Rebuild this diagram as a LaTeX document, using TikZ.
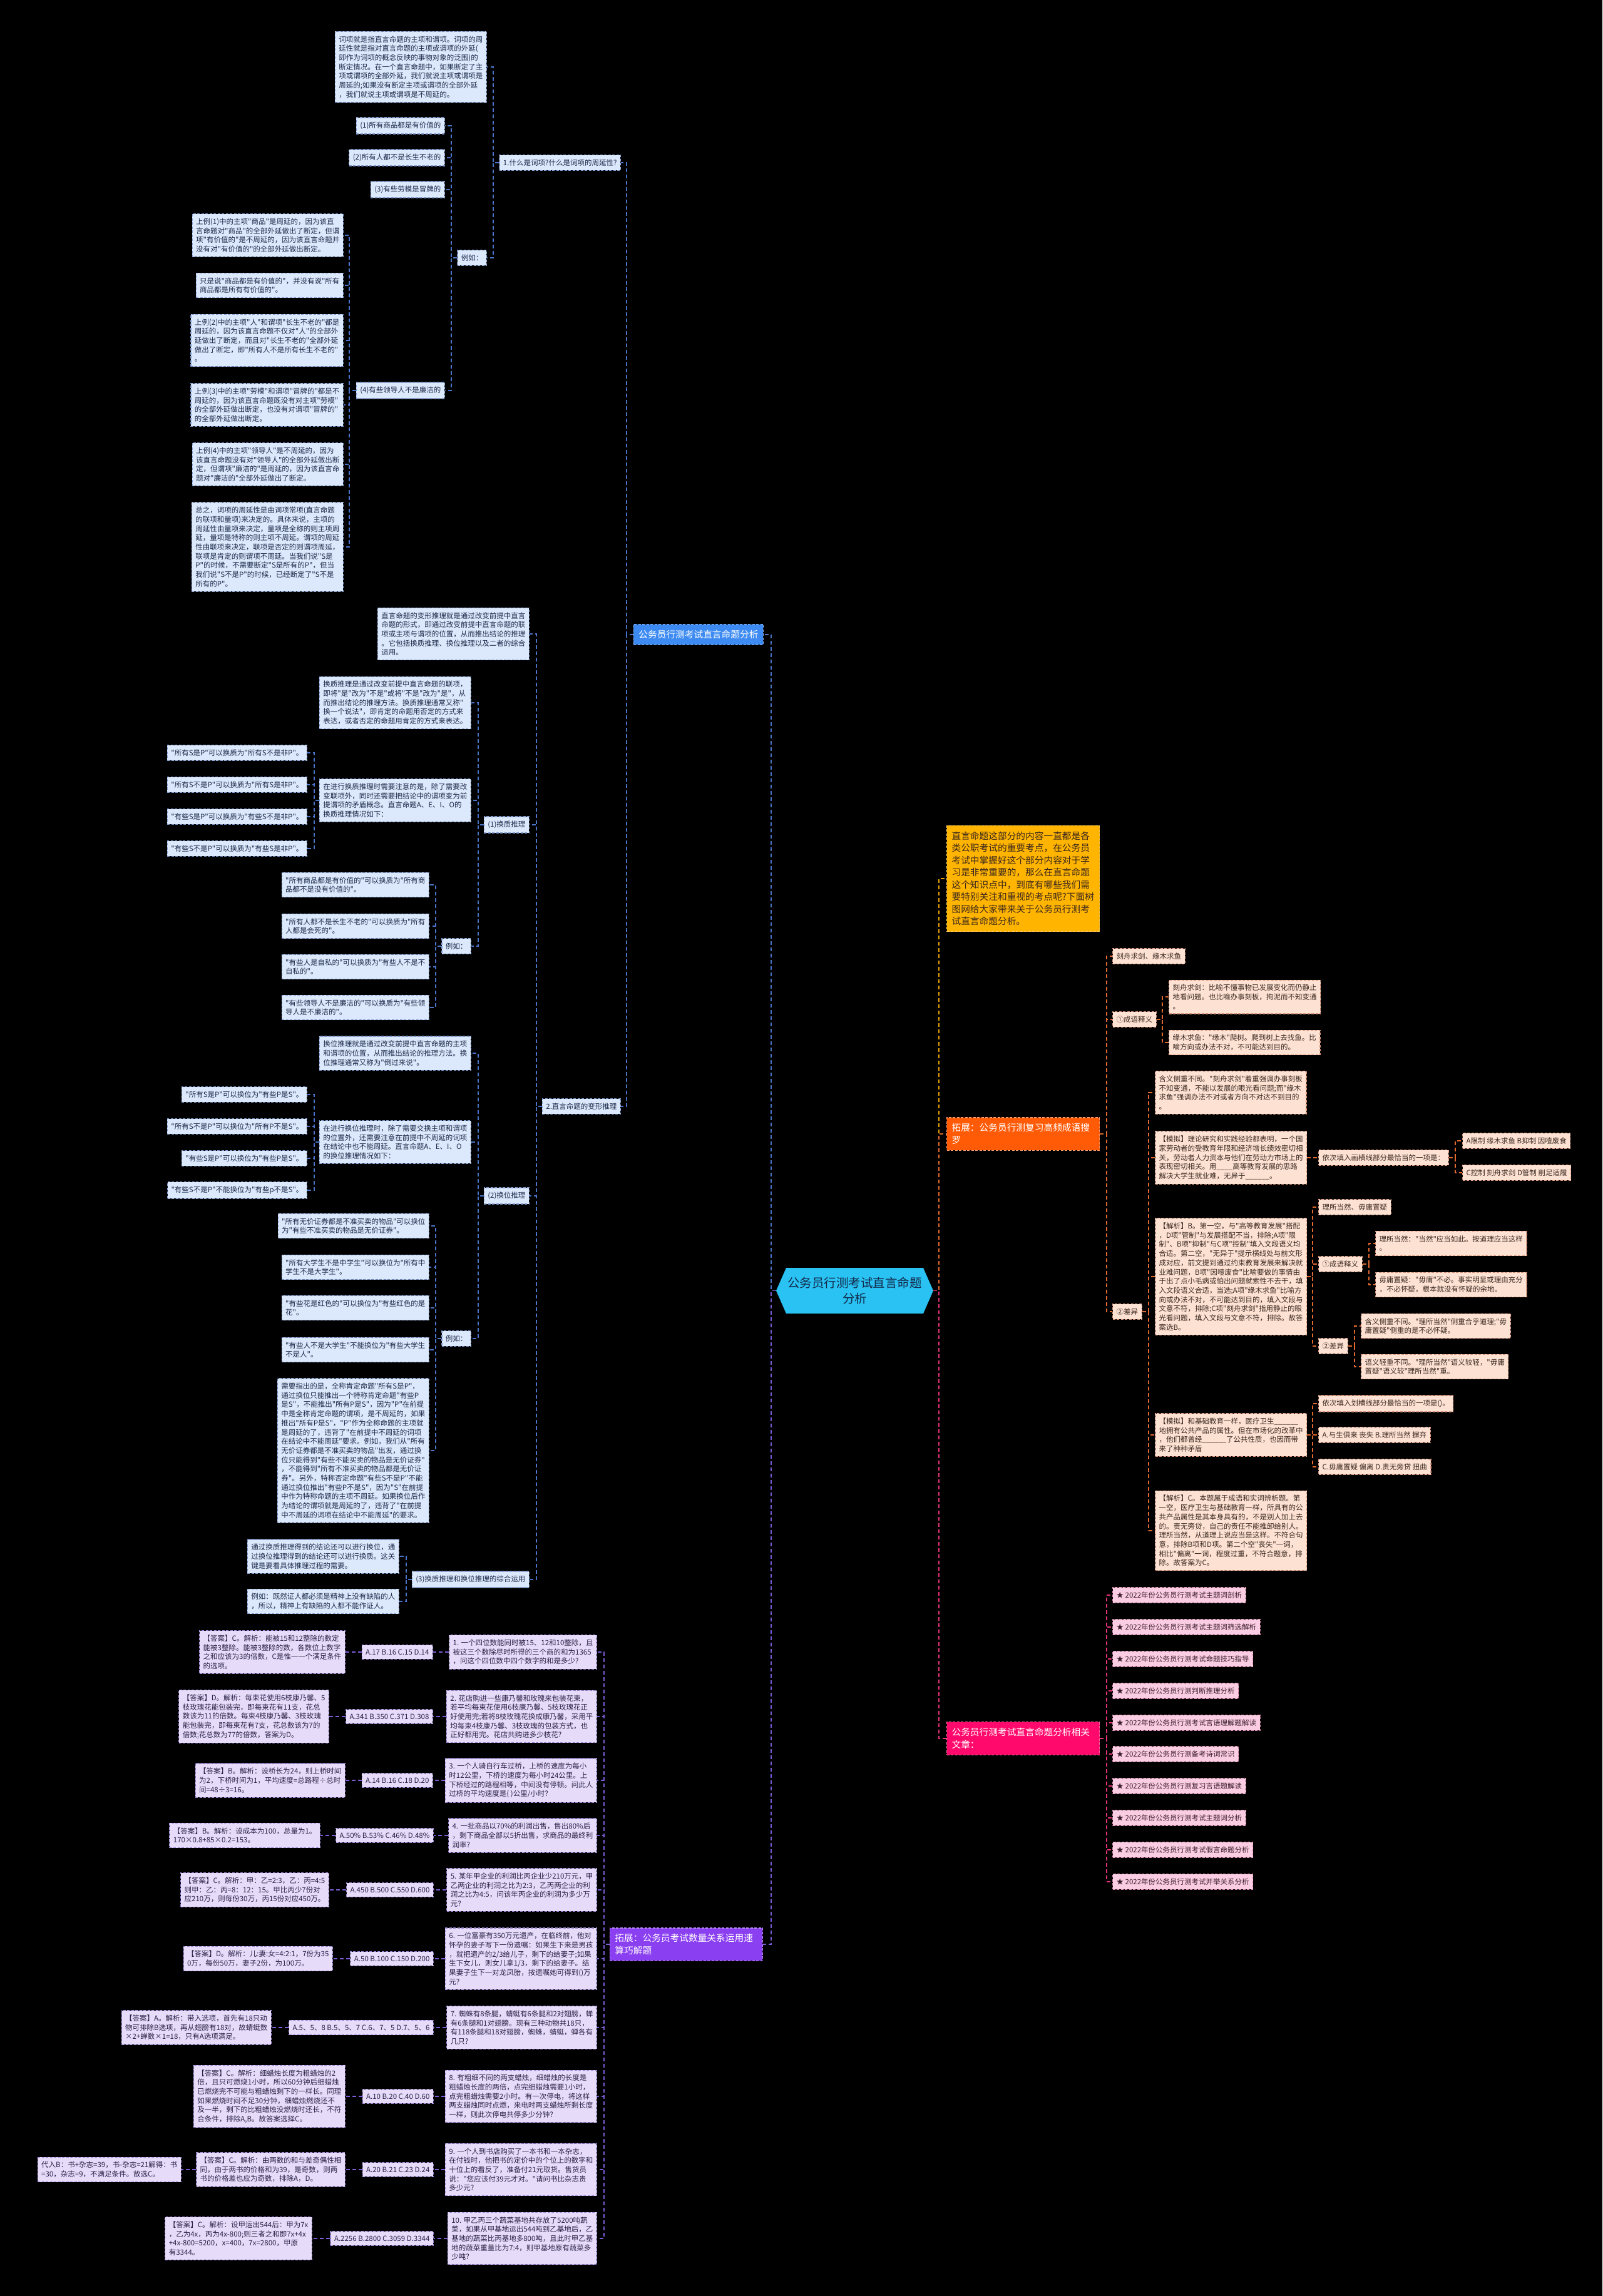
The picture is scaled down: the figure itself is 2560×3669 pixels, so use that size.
\documentclass[tikz,border=0pt]{standalone}
\usepackage{fontspec}
\newfontfamily\cjk{Noto Sans CJK SC}
\definecolor{bfill}{HTML}{DCE8FB}\definecolor{bdraw}{HTML}{7F9BD0}\definecolor{btext}{HTML}{1B2A49}\definecolor{bline}{HTML}{4A74C9}
\definecolor{pfill}{HTML}{E6DCFA}\definecolor{pdraw}{HTML}{9C86D6}\definecolor{ptext}{HTML}{2A2145}\definecolor{pline}{HTML}{7B5BD6}
\definecolor{efill}{HTML}{FDE2D4}\definecolor{edraw}{HTML}{D9967A}\definecolor{etext}{HTML}{3A271E}\definecolor{eline}{HTML}{E2692E}
\definecolor{kfill}{HTML}{FBCDE2}\definecolor{kdraw}{HTML}{D98AAE}\definecolor{ktext}{HTML}{3A1E2B}\definecolor{kline}{HTML}{E5337A}
\definecolor{blueL}{HTML}{3D8BF2}\definecolor{purpL}{HTML}{8A3FF0}\definecolor{yelL}{HTML}{FFB400}\definecolor{redL}{HTML}{FF5A06}\definecolor{pinkL}{HTML}{FF0A6C}
\definecolor{rootfill}{HTML}{29C2F2}\definecolor{roottext}{HTML}{13294B}\definecolor{yline}{HTML}{E8A200}
\tikzset{
 nd/.style={font=\cjk\fontsize{11.5}{14.7}\selectfont, align=left, inner xsep=6pt, inner ysep=7pt, line width=1.1pt, dash pattern=on 4pt off 2.5pt},
 bn/.style={nd, fill=bfill, draw=bdraw, text=btext},
 pn/.style={nd, fill=pfill, draw=pdraw, text=ptext},
 en/.style={nd, fill=efill, draw=edraw, text=etext},
 kn/.style={nd, fill=kfill, draw=kdraw, text=ktext},
 lone/.style={font=\cjk\fontsize{14.7}{19.5}\selectfont, align=left, inner xsep=8pt, inner ysep=9.5pt, line width=1.1pt, dash pattern=on 4pt off 2.5pt},
 cb/.style={draw=bline, line width=1.8pt, dash pattern=on 6pt off 4pt},
 cp/.style={draw=pline, line width=1.8pt, dash pattern=on 6pt off 4pt},
 ce/.style={draw=eline, line width=1.8pt, dash pattern=on 6pt off 4pt},
 ck/.style={draw=kline, line width=1.8pt, dash pattern=on 6pt off 4pt},
 cy/.style={draw=yline, line width=1.8pt, dash pattern=on 6pt off 4pt},
}
\newcommand\linkL[4]{\draw[#1] (#2.west) -- (#4) |- (#3.east);}
\newcommand\linkR[4]{\draw[#1] (#2.east) -- (#4) |- (#3.west);}
\begin{document}
\begin{tikzpicture}[x=1pt,y=-1pt]
\useasboundingbox (0,0) rectangle (2560,3669);
\fill[black] (0,0) rectangle (2560,3669);
% root
\fill[rootfill] (1240,2062.5) -- (1256,2026) -- (1475,2026) -- (1491,2062.5) -- (1475,2099) -- (1256,2099) -- cycle;
\node[font=\cjk\fontsize{19.5}{25}\selectfont, text=roottext, align=center, minimum width=251pt, minimum height=73pt, inner sep=0pt] (root) at (1365.5,2062.5) {公务员行测考试直言命题\\分析};
\coordinate (tRL) at (1232,2062.5);
\coordinate (tRR) at (1500,2062.5);
% level 1
\node[lone, fill=blueL, draw=blueL!60!white, text=white, anchor=east] (bL) at (1220,1014) {公务员行测考试直言命题分析};
\node[lone, fill=purpL, draw=purpL!60!white, text=white, anchor=east, text width=228pt] (pL) at (1219,3107) {拓展：公务员考试数量关系运用速\\算巧解题};
\node[lone, fill=yelL, draw=yelL!60!white, text=etext, anchor=west, text width=228pt] (yL) at (1512,1404) {直言命题这部分的内容一直都是各\\类公职考试的重要考点，在公务员\\考试中掌握好这个部分内容对于学\\习是非常重要的，那么在直言命题\\这个知识点中，到底有哪些我们需\\要特别关注和重视的考点呢?下面树\\图网给大家带来关于公务员行测考\\试直言命题分析。};
\node[lone, fill=redL, draw=redL!60!white, text=white, anchor=west, text width=228pt] (rL) at (1512,1812) {拓展：公务员行测复习高频成语搜\\罗};
\node[lone, fill=pinkL, draw=pinkL!60!white, text=white, anchor=west, text width=228pt] (kL) at (1512,2778) {公务员行测考试直言命题分析相关\\文章：};
\linkL{cb}{root}{bL}{tRL}
\linkL{cp}{root}{pL}{tRL}
\linkR{cy}{root}{yL}{tRR}
\linkR{ce}{root}{rL}{tRR}
\linkR{ck}{root}{kL}{tRR}
% ===== blue subtree
\coordinate (tB) at (1001,1014);
\node[bn, anchor=east] (n1) at (992,260) {1.什么是词项?什么是词项的周延性?};
\node[bn, anchor=east] (n2) at (992,1768) {2.直言命题的变形推理};
\linkL{cb}{bL}{n1}{tB}\linkL{cb}{bL}{n2}{tB}
\coordinate (tn1) at (788,260);
\node[bn, anchor=east] (pa1) at (778,107) {词项就是指直言命题的主项和谓项。词项的周\\延性就是指对直言命题的主项或谓项的外延(\\即作为词项的概念反映的事物对象的泛围)的\\断定情况。在一个直言命题中，如果断定了主\\项或谓项的全部外延，我们就说主项或谓项是\\周延的;如果没有断定主项或谓项的全部外延\\，我们就说主项或谓项是不周延的。};
\node[bn, anchor=east] (eg1) at (778,412) {例如：};
\linkL{cb}{n1}{pa1}{tn1}\linkL{cb}{n1}{eg1}{tn1}
\coordinate (teg1) at (721,412);
\node[bn, anchor=east] (x1) at (711,201) {(1)所有商品都是有价值的};
\node[bn, anchor=east] (x2) at (711,252) {(2)所有人都不是长生不老的};
\node[bn, anchor=east] (x3) at (711,303) {(3)有些劳模是冒牌的};
\node[bn, anchor=east] (x4) at (711,624) {(4)有些领导人不是廉洁的};
\linkL{cb}{eg1}{x1}{teg1}\linkL{cb}{eg1}{x2}{teg1}\linkL{cb}{eg1}{x3}{teg1}\linkL{cb}{eg1}{x4}{teg1}
\coordinate (tx4) at (558,624);
\node[bn, anchor=east] (e1) at (549,376) {上例(1)中的主项"商品"是周延的，因为该直\\言命题对"商品"的全部外延做出了断定，但谓\\项"有价值的"是不周延的，因为该直言命题并\\没有对"有价值的"的全部外延做出断定。};
\node[bn, anchor=east] (e2) at (549,456) {只是说"商品都是有价值的"，并没有说"所有\\商品都是所有有价值的"。};
\node[bn, anchor=east] (e3) at (549,544) {上例(2)中的主项"人"和谓项"长生不老的"都是\\周延的，因为该直言命题不仅对"人"的全部外\\延做出了断定，而且对"长生不老的"全部外延\\做出了断定，即"所有人不是所有长生不老的"\\。};
\node[bn, anchor=east] (e4) at (549,647) {上例(3)中的主项"劳模"和谓项"冒牌的"都是不\\周延的，因为该直言命题既没有对主项"劳模"\\的全部外延做出断定，也没有对谓项"冒牌的"\\的全部外延做出断定。};
\node[bn, anchor=east] (e5) at (549,742) {上例(4)中的主项"领导人"是不周延的，因为\\该直言命题没有对"领导人"的全部外延做出断\\定，但谓项"廉洁的"是周延的，因为该直言命\\题对"廉洁的"全部外延做出了断定。};
\node[bn, anchor=east] (e6) at (549,874) {总之，词项的周延性是由词项常项(直言命题\\的联项和量项)来决定的。具体来说，主项的\\周延性由量项来决定，量项是全称的则主项周\\延，量项是特称的则主项不周延。谓项的周延\\性由联项来决定，联项是否定的则谓项周延，\\联项是肯定的则谓项不周延。当我们说"S是\\P"的时候，不需要断定"S是所有的P"，但当\\我们说"S不是P"的时候，已经断定了"S不是\\所有的P"。};
\foreach \c in {e1,e2,e3,e4,e5,e6} {\linkL{cb}{x4}{\c}{tx4}}
\coordinate (tn2) at (857,1768);
\node[bn, anchor=east] (pa2) at (846,1013) {直言命题的变形推理就是通过改变前提中直言\\命题的形式，即通过改变前提中直言命题的联\\项或主项与谓项的位置，从而推出结论的推理\\。它包括换质推理、换位推理以及二者的综合\\运用。};
\node[bn, anchor=east] (q1) at (846,1318) {(1)换质推理};
\node[bn, anchor=east] (q2) at (846,1911) {(2)换位推理};
\node[bn, anchor=east] (q3) at (846,2524) {(3)换质推理和换位推理的综合运用};
\foreach \c in {pa2,q1,q2,q3} {\linkL{cb}{n2}{\c}{tn2}}
\coordinate (tq1) at (764,1318);
\node[bn, anchor=east] (hz) at (753,1123) {换质推理是通过改变前提中直言命题的联项，\\即将"是"改为"不是"或将"不是"改为"是"，从\\而推出结论的推理方法。换质推理通常又称"\\换一个说法"，即肯定的命题用否定的方式来\\表达，或者否定的命题用肯定的方式来表达。};
\node[bn, anchor=east] (hzn) at (753,1279) {在进行换质推理时需要注意的是，除了需要改\\变联项外，同时还需要把结论中的谓项变为前\\提谓项的矛盾概念。直言命题A、E、I、O的\\换质推理情况如下：};
\node[bn, anchor=east] (eg2) at (753,1512) {例如：};
\foreach \c in {hz,hzn,eg2} {\linkL{cb}{q1}{\c}{tq1}}
\coordinate (thzn) at (502,1279);
\node[bn, anchor=east] (f1) at (491,1203) {"所有S是P"可以换质为"所有S不是非P"。};
\node[bn, anchor=east] (f2) at (491,1254) {"所有S不是P"可以换质为"所有S是非P"。};
\node[bn, anchor=east] (f3) at (491,1305) {"有些S是P"可以换质为"有些S不是非P"。};
\node[bn, anchor=east] (f4) at (491,1356) {"有些S不是P"可以换质为"有些S是非P"。};
\foreach \c in {f1,f2,f3,f4} {\linkL{cb}{hzn}{\c}{thzn}}
\coordinate (teg2) at (696,1512);
\node[bn, anchor=east] (g1) at (686,1414) {"所有商品都是有价值的"可以换质为"所有商\\品都不是没有价值的"。};
\node[bn, anchor=east] (g2) at (686,1480) {"所有人都不是长生不老的"可以换质为"所有\\人都是会死的"。};
\node[bn, anchor=east] (g3) at (686,1545) {"有些人是自私的"可以换质为"有些人不是不\\自私的"。};
\node[bn, anchor=east] (g4) at (686,1610) {"有些领导人不是廉洁的"可以换质为"有些领\\导人是不廉洁的"。};
\foreach \c in {g1,g2,g3,g4} {\linkL{cb}{eg2}{\c}{teg2}}
\coordinate (tq2) at (764,1911);
\node[bn, anchor=east] (hw) at (753,1683) {换位推理就是通过改变前提中直言命题的主项\\和谓项的位置，从而推出结论的推理方法。换\\位推理通常又称为"倒过来说"。};
\node[bn, anchor=east] (hwn) at (753,1825) {在进行换位推理时，除了需要交换主项和谓项\\的位置外，还需要注意在前提中不周延的词项\\在结论中也不能周延。直言命题A、E、I、O\\的换位推理情况如下：};
\node[bn, anchor=east] (eg3) at (753,2139) {例如：};
\foreach \c in {hw,hwn,eg3} {\linkL{cb}{q2}{\c}{tq2}}
\coordinate (thwn) at (502,1825);
\node[bn, anchor=east] (k1) at (491,1749) {"所有S是P"可以换位为"有些P是S"。};
\node[bn, anchor=east] (k2) at (491,1800) {"所有S不是P"可以换位为"所有P不是S"。};
\node[bn, anchor=east] (k3) at (491,1851) {"有些S是P"可以换位为"有些P是S"。};
\node[bn, anchor=east] (k4) at (491,1902) {"有些S不是P"不能换位为"有些p不是S"。};
\foreach \c in {k1,k2,k3,k4} {\linkL{cb}{hwn}{\c}{thwn}}
\coordinate (teg3) at (696,2139);
\node[bn, anchor=east] (l1) at (686,1959) {"所有无价证券都是不准买卖的物品"可以换位\\为"有些不准买卖的物品是无价证券"。};
\node[bn, anchor=east] (l2) at (686,2025) {"所有大学生不是中学生"可以换位为"所有中\\学生不是大学生"。};
\node[bn, anchor=east] (l3) at (686,2090) {"有些花是红色的"可以换位为"有些红色的是\\花"。};
\node[bn, anchor=east] (l4) at (686,2157) {"有些人不是大学生"不能换位为"有些大学生\\不是人"。};
\node[bn, anchor=east] (l5) at (686,2318) {需要指出的是，全称肯定命题"所有S是P"，\\通过换位只能推出一个特称肯定命题"有些P\\是S"，不能推出"所有P是S"，因为"P"在前提\\中是全称肯定命题的谓项，是不周延的，如果\\推出"所有P是S"，"P"作为全称命题的主项就\\是周延的了，违背了"在前提中不周延的词项\\在结论中不能周延"要求。例如，我们从"所有\\无价证券都是不准买卖的物品"出发，通过换\\位只能得到"有些不能买卖的物品是无价证券"\\，不能得到"所有不准买卖的物品都是无价证\\券"。另外，特称否定命题"有些S不是P"不能\\通过换位推出"有些P不是S"，因为"S"在前提\\中作为特称命题的主项不周延。如果换位后作\\为结论的谓项就是周延的了，违背了"在前提\\中不周延的词项在结论中不能周延"的要求。};
\foreach \c in {l1,l2,l3,l4,l5} {\linkL{cb}{eg3}{\c}{teg3}}
\coordinate (tq3) at (649,2524);
\node[bn, anchor=east] (m1) at (638,2487) {通过换质推理得到的结论还可以进行换位，通\\过换位推理得到的结论还可以进行换质。这关\\键是要看具体推理过程的需要。};
\node[bn, anchor=east] (m2) at (638,2559) {例如：既然证人都必须是精神上没有缺陷的人\\，所以，精神上有缺陷的人都不能作证人。};
\linkL{cb}{q3}{m1}{tq3}\linkL{cb}{q3}{m2}{tq3}
% ===== purple subtree
\coordinate (tP) at (965,3107);
\node[pn, anchor=east] (p1) at (954,2640) {1. 一个四位数能同时被15、12和10整除，且\\被这三个数除尽时所得的三个商的和为1365\\，问这个四位数中四个数字的和是多少?};
\node[pn, anchor=east] (o1) at (692,2640) {A.17 B.16 C.15 D.14};
\node[pn, anchor=east] (a1) at (552,2640) {【答案】C。解析：能被15和12整除的数定\\能被3整除。能被3整除的数，各数位上数字\\之和应该为3的倍数，C是惟一一个满足条件\\的选项。};
\node[pn, anchor=east] (p2) at (954,2743) {2. 花店购进一些康乃馨和玫瑰来包装花束，\\若平均每束花使用6枝康乃馨、5枝玫瑰花正\\好使用完;若将8枝玫瑰花换成康乃馨，采用平\\均每束4枝康乃馨、3枝玫瑰的包装方式，也\\正好都用完。花店共购进多少枝花?};
\node[pn, anchor=east] (o2) at (692,2743) {A.341 B.350 C.371 D.308};
\node[pn, anchor=east] (a2) at (526,2743) {【答案】D。解析：每束花使用6枝康乃馨、5\\枝玫瑰花能包装完，即每束花有11支，花总\\数该为11的倍数。每束4枝康乃馨、3枝玫瑰\\能包装完，即每束花有7支，花总数该为7的\\倍数;花总数为77的倍数，答案为D。};
\node[pn, anchor=east] (p3) at (954,2845) {3. 一个人骑自行车过桥，上桥的速度为每小\\时12公里，下桥的速度为每小时24公里。上\\下桥经过的路程相等，中间没有停顿。问此人\\过桥的平均速度是( )公里/小时?};
\node[pn, anchor=east] (o3) at (692,2845) {A.14 B.16 C.18 D.20};
\node[pn, anchor=east] (a3) at (552,2845) {【答案】B。解析：设桥长为24，则上桥时间\\为2，下桥时间为1，平均速度=总路程÷总时\\间=48÷3=16。};
\node[pn, anchor=east] (p4) at (954,2933) {4. 一批商品以70\%的利润出售，售出80\%后\\，剩下商品全部以5折出售，求商品的最终利\\润率?};
\node[pn, anchor=east] (o4) at (693,2933) {A.50\% B.53\% C.46\% D.48\%};
\node[pn, anchor=east] (a4) at (512,2933) {【答案】B。解析：设成本为100，总量为1。\\170×0.8+85×0.2=153。};
\node[pn, anchor=east] (p5) at (954,3020) {5. 某年甲企业的利润比丙企业少210万元，甲\\乙两企业的利润之比为2:3，乙丙两企业的利\\润之比为4:5，问该年丙企业的利润为多少万\\元?};
\node[pn, anchor=east] (o5) at (693,3020) {A.450 B.500 C.550 D.600};
\node[pn, anchor=east] (a5) at (526,3020) {【答案】C。解析：甲：乙=2:3，乙：丙=4:5\\则甲：乙：丙=8：12：15。甲比丙少7份对\\应210万，则每份30万，丙15份对应450万。};
\node[pn, anchor=east] (p6) at (954,3130) {6. 一位富豪有350万元遗产，在临终前，他对\\怀孕的妻子写下一份遗嘱：如果生下来是男孩\\，就把遗产的2/3给儿子，剩下的给妻子;如果\\生下女儿，则女儿拿1/3，剩下的给妻子。结\\果妻子生下一对龙凤胎，按遗嘱她可得到()万\\元?};
\node[pn, anchor=east] (o6) at (693,3130) {A.50 B.100 C.150 D.200};
\node[pn, anchor=east] (a6) at (532,3130) {【答案】D。解析：儿:妻:女=4:2:1，7份为35\\0万，每份50万，妻子2份，为100万。};
\node[pn, anchor=east] (p7) at (954,3240) {7. 蜘蛛有8条腿，蜻蜓有6条腿和2对翅膀，蝉\\有6条腿和1对翅膀。现有三种动物共18只，\\有118条腿和18对翅膀，蜘蛛，蜻蜓，蝉各有\\几只?};
\node[pn, anchor=east] (o7) at (693,3240) {A.5、5、8 B.5、5、7 C.6、7、5 D.7、5、6};
\node[pn, anchor=east] (a7) at (434,3240) {【答案】A。解析：带入选项，首先有18只动\\物可排除B选项，再从翅膀有18对，故蜻蜓数\\×2+蝉数×1=18，只有A选项满足。};
\node[pn, anchor=east] (p8) at (954,3350) {8. 有粗细不同的两支蜡烛，细蜡烛的长度是\\粗蜡烛长度的两倍，点完细蜡烛需要1小时，\\点完粗蜡烛需要2小时。有一次停电，将这样\\两支蜡烛同时点燃，来电时两支蜡烛所剩长度\\一样，则此次停电共停多少分钟?};
\node[pn, anchor=east] (o8) at (693,3350) {A.10 B.20 C.40 D.60};
\node[pn, anchor=east] (a8) at (552,3350) {【答案】C。解析：细蜡烛长度为粗蜡烛的2\\倍，且只可燃烧1小时，所以60分钟后细蜡烛\\已燃烧完不可能与粗蜡烛剩下的一样长。同理\\如果燃烧时间不足30分钟，细蜡烛燃烧还不\\及一半，剩下的比粗蜡烛没燃烧时还长，不符\\合条件，排除A,B。故答案选择C。};
\node[pn, anchor=east] (p9) at (954,3467) {9. 一个人到书店购买了一本书和一本杂志，\\在付钱时，他把书的定价中的个位上的数字和\\十位上的看反了，准备付21元取货。售货员\\说："您应该付39元才对。"请问书比杂志贵\\多少元?};
\node[pn, anchor=east] (o9) at (693,3467) {A.20 B.21 C.23 D.24};
\node[pn, anchor=east] (a9) at (552,3467) {【答案】C。解析：由两数的和与差奇偶性相\\同，由于两书的价格和为39，是奇数，则两\\书的价格差也应为奇数，排除A，D。};
\node[pn, anchor=east] (x9) at (290,3467) {代入B：书+杂志=39，书-杂志=21解得：书\\=30，杂志=9，不满足条件。故选C。};
\node[pn, anchor=east] (p10) at (954,3577) {10. 甲乙丙三个蔬菜基地共存放了5200吨蔬\\菜，如果从甲基地运出544吨到乙基地后，乙\\基地的蔬菜比丙基地多800吨，且此时甲乙基\\地的蔬菜重量比为7:4，则甲基地原有蔬菜多\\少吨?};
\node[pn, anchor=east] (o10) at (693,3577) {A.2256 B.2800 C.3059 D.3344};
\node[pn, anchor=east] (a10) at (499,3577) {【答案】C。解析：设甲运出544后：甲为7x\\，乙为4x，丙为4x-800;则三者之和即7x+4x\\+4x-800=5200，x=400，7x=2800，甲原\\有3344。};
\foreach \i in {1,...,10} {\linkL{cp}{pL}{p\i}{tP}\draw[cp] (p\i.west) -- (o\i.east);\draw[cp] (o\i.west) -- (a\i.east);}
\draw[cp] (a9.west) -- (x9.east);
% ===== red subtree
\coordinate (tR) at (1768,1812);
\node[en, anchor=west] (r1) at (1777,1528) {刻舟求剑、缘木求鱼};
\node[en, anchor=west] (r2) at (1777,1629) {①成语释义};
\node[en, anchor=west] (r3) at (1777,2096) {②差异};
\foreach \c in {r1,r2,r3} {\linkR{ce}{rL}{\c}{tR}}
\coordinate (tr2) at (1857,1629);
\node[en, anchor=west] (s1) at (1867,1593) {刻舟求剑：比喻不懂事物已发展变化而仍静止\\地看问题。也比喻办事刻板，拘泥而不知变通\\。};
\node[en, anchor=west] (s2) at (1867,1666) {缘木求鱼："缘木"爬树。爬到树上去找鱼。比\\喻方向或办法不对，不可能达到目的。};
\linkR{ce}{r2}{s1}{tr2}\linkR{ce}{r2}{s2}{tr2}
\coordinate (tr3) at (1835,2096);
\node[en, anchor=west] (d1) at (1845,1746) {含义侧重不同。"刻舟求剑"着重强调办事刻板\\不知变通，不能以发展的眼光看问题;而"缘木\\求鱼"强调办法不对或者方向不对达不到目的\\。};
\node[en, anchor=west] (d2) at (1845,1850) {【模拟】理论研究和实践经验都表明，一个国\\家劳动者的受教育年限和经济增长绩效密切相\\关，劳动者人力资本与他们在劳动力市场上的\\表现密切相关。用\_\_\_\_高等教育发展的思路\\解决大学生就业难，无异于\_\_\_\_\_\_。};
\node[en, anchor=west] (d3) at (1845,2040) {【解析】B。第一空，与"高等教育发展"搭配\\，D项"管制"与发展搭配不当，排除;A项"限\\制"、B项"抑制"与C项"控制"填入文段语义均\\合适。第二空，"无异于"提示横线处与前文形\\成对应，前文提到通过约束教育发展来解决就\\业难问题，B项"因噎废食"比喻要做的事情由\\于出了点小毛病或怕出问题就索性不去干，填\\入文段语义合适，当选;A项"缘木求鱼"比喻方\\向或办法不对，不可能达到目的，填入文段与\\文意不符，排除;C项"刻舟求剑"指用静止的眼\\光看问题，填入文段与文意不符，排除。故答\\案选B。};
\node[en, anchor=west] (d4) at (1845,2293) {【模拟】和基础教育一样，医疗卫生\_\_\_\_\_\_\\地拥有公共产品的属性。但在市场化的改革中\\，他们都曾经\_\_\_\_\_\_了公共性质，也因而带\\来了种种矛盾};
\node[en, anchor=west] (d5) at (1845,2446) {【解析】C。本题属于成语和实词辨析题。第\\一空，医疗卫生与基础教育一样，所具有的公\\共产品属性是其本身具有的，不是别人加上去\\的。责无旁贷，自己的责任不能推卸给别人。\\理所当然，从道理上说应当是这样。不符合句\\意，排除B项和D项。第二个空"丧失"一词，\\相比"偏离"一词，程度过重，不符合题意，排\\除。故答案为C。};
\foreach \c in {d1,d2,d3,d4,d5} {\linkR{ce}{r3}{\c}{tr3}}
\node[en, anchor=west] (d2c) at (2106,1850) {依次填入画横线部分最恰当的一项是：};
\draw[ce] (d2.east) -- (d2c.west);
\coordinate (td2c) at (2325,1850);
\node[en, anchor=west] (d2a) at (2336,1823) {A限制 缘木求鱼 B抑制 因噎废食};
\node[en, anchor=west] (d2b) at (2336,1874) {C控制 刻舟求剑 D管制 削足适履};
\linkR{ce}{d2c}{d2a}{td2c}\linkR{ce}{d2c}{d2b}{td2c}
\coordinate (td3) at (2097,2040);
\node[en, anchor=west] (t1) at (2106,1929) {理所当然、毋庸置疑};
\node[en, anchor=west] (t2) at (2106,2020) {①成语释义};
\node[en, anchor=west] (t3) at (2106,2151) {②差异};
\foreach \c in {t1,t2,t3} {\linkR{ce}{d3}{\c}{td3}}
\coordinate (tt2) at (2187,2020);
\node[en, anchor=west] (u1) at (2197,1987) {理所当然："当然"应当如此。按道理应当这样\\。};
\node[en, anchor=west] (u2) at (2197,2053) {毋庸置疑："毋庸"不必。事实明显或理由充分\\，不必怀疑，根本就没有怀疑的余地。};
\linkR{ce}{t2}{u1}{tt2}\linkR{ce}{t2}{u2}{tt2}
\coordinate (tt3) at (2164,2151);
\node[en, anchor=west] (v1) at (2174,2119) {含义侧重不同。"理所当然"侧重合乎道理;"毋\\庸置疑"侧重的是不必怀疑。};
\node[en, anchor=west] (v2) at (2174,2184) {语义轻重不同。"理所当然"语义较轻，"毋庸\\置疑"语义较"理所当然"重。};
\linkR{ce}{t3}{v1}{tt3}\linkR{ce}{t3}{v2}{tt3}
\coordinate (td4) at (2097,2293);
\node[en, anchor=west] (w1) at (2106,2243) {依次填入划横线部分最恰当的一项是()。};
\node[en, anchor=west] (w2) at (2106,2293) {A.与生俱来 丧失 B.理所当然 摒弃};
\node[en, anchor=west] (w3) at (2106,2344) {C.毋庸置疑 偏离 D.责无旁贷 扭曲};
\foreach \c in {w1,w2,w3} {\linkR{ce}{d4}{\c}{td4}}
% ===== pink subtree
\coordinate (tK) at (1768,2778);
\node[kn, anchor=west] (k01) at (1777,2549) {★ 2022年份公务员行测考试主题词剖析};
\node[kn, anchor=west] (k02) at (1777,2600) {★ 2022年份公务员行测考试主题词筛选解析};
\node[kn, anchor=west] (k03) at (1777,2651) {★ 2022年份公务员行测考试命题技巧指导};
\node[kn, anchor=west] (k04) at (1777,2702) {★ 2022年份公务员行测判断推理分析};
\node[kn, anchor=west] (k05) at (1777,2753) {★ 2022年份公务员行测考试言语理解题解读};
\node[kn, anchor=west] (k06) at (1777,2803) {★ 2022年份公务员行测备考诗词常识};
\node[kn, anchor=west] (k07) at (1777,2854) {★ 2022年份公务员行测复习言语题解读};
\node[kn, anchor=west] (k08) at (1777,2905) {★ 2022年份公务员行测考试主题词分析};
\node[kn, anchor=west] (k09) at (1777,2956) {★ 2022年份公务员行测考试假言命题分析};
\node[kn, anchor=west] (k10) at (1777,3007) {★ 2022年份公务员行测考试并举关系分析};
\foreach \c in {k01,k02,k03,k04,k05,k06,k07,k08,k09,k10} {\linkR{ck}{kL}{\c}{tK}}
\end{tikzpicture}
\end{document}
